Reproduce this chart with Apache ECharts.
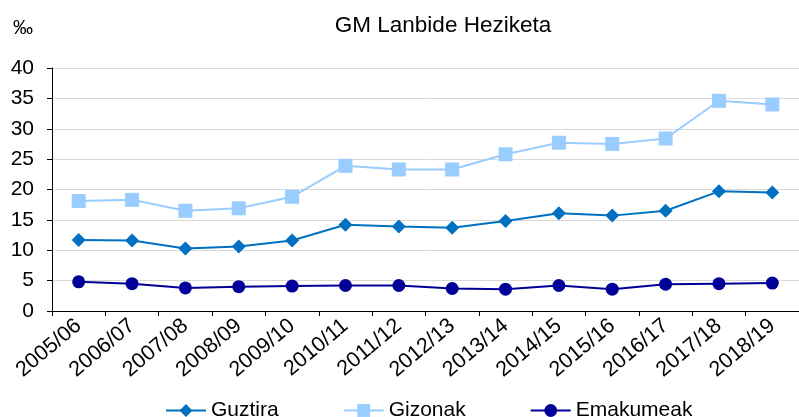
<!DOCTYPE html>
<html><head><meta charset="utf-8">
<script src="https://cdn.jsdelivr.net/npm/echarts@6/dist/echarts.min.js"></script>
<style>html,body{margin:0;padding:0;background:#fff}#c{width:799px;height:417px}</style>
</head><body><div id="c"></div>
<script>
const categories = ['2005/06','2006/07','2007/08','2008/09','2009/10','2010/11','2011/12','2012/13','2013/14','2014/15','2015/16','2016/17','2017/18','2018/19'];
const guztira = [11.7, 11.6, 10.3, 10.6, 11.6, 14.2, 13.9, 13.7, 14.8, 16.1, 15.7, 16.5, 19.7, 19.5];
const gizonak = [18.1, 18.3, 16.5, 16.9, 18.8, 23.9, 23.3, 23.3, 25.8, 27.7, 27.5, 28.4, 34.6, 34.0];
const emakumeak = [4.8, 4.5, 3.8, 4.0, 4.1, 4.2, 4.2, 3.7, 3.6, 4.2, 3.6, 4.4, 4.5, 4.6];
const yTicks = {min: 0, max: 40, interval: 5};

const font = 'Liberation Sans, Arial, sans-serif';
const chart = echarts.init(document.getElementById('c'));
chart.setOption({
  animation: false,
  textStyle: {fontFamily: font},
  title: {text: 'GM Lanbide Heziketa', left: 438, textAlign: 'center', top: 9,
    textStyle: {fontFamily: font, fontSize: 22.5, fontWeight: 'normal', color: '#000'}},
  graphic: [{type: 'text', left: 13, top: 18, style: {text: '‰', font: '20px ' + font, fill: '#000'}}],
  legend: {top: 395, left: 160, itemWidth: 40, itemHeight: 16, itemGap: 64,
    textStyle: {fontFamily: font, fontSize: 21, color: '#000'},
    data: ['Guztira', 'Gizonak', 'Emakumeak']},
  grid: {left: 52, top: 68, height: 243, width: 752},
  xAxis: {type: 'category', data: categories, boundaryGap: true,
    axisLine: {lineStyle: {color: '#000', width: 1}},
    axisTick: {show: true, length: 5, lineStyle: {color: '#000'}},
    axisLabel: {rotate: 40, fontSize: 21.5, color: '#000', margin: 12, fontFamily: font, interval: 0},
  },
  yAxis: {type: 'value', min: yTicks.min, max: yTicks.max, interval: yTicks.interval,
    axisLine: {show: true, lineStyle: {color: '#000'}},
    axisTick: {show: true, length: 5, lineStyle: {color: '#000'}},
    axisLabel: {fontSize: 21, color: '#000', margin: 18, fontFamily: font},
    splitLine: {lineStyle: {color: '#d9d9d9', width: 1}}},
  series: [
    {name: 'Guztira', type: 'line', data: guztira, symbol: 'diamond', symbolSize: 14,
      color: '#0070C0', lineStyle: {width: 2}, itemStyle: {color: '#0070C0'}},
    {name: 'Gizonak', type: 'line', data: gizonak, symbol: 'rect', symbolSize: 14,
      color: '#99CCFF', lineStyle: {width: 2}, itemStyle: {color: '#99CCFF'}},
    {name: 'Emakumeak', type: 'line', data: emakumeak, symbol: 'circle', symbolSize: 13,
      color: '#000099', lineStyle: {width: 2}, itemStyle: {color: '#000099'}}
  ]
});
</script></body></html>
